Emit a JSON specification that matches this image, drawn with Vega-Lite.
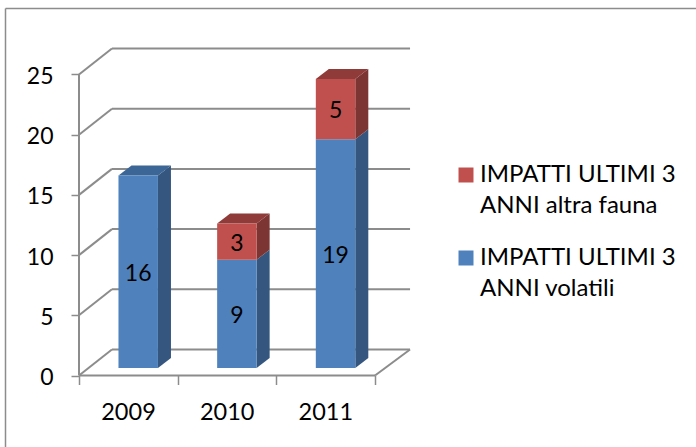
{
"$schema":"https://vega.github.io/schema/vega-lite/v6.json",
"width":691,"height":439,"autosize":"none","padding":{"left":5,"top":8,"right":0,"bottom":0},
"background":"white",
"view":{"stroke":null},
"config":{"font":"Lato"},
"datasets":{
"grid":[{"v":0},{"v":5},{"v":10},{"v":15},{"v":20},{"v":25}],
"bars":[
{"year":2009,"i":0,"series":"IMPATTI ULTIMI 3|ANNI volatili","start":0,"end":16,"value":16,"top":true},
{"year":2010,"i":1,"series":"IMPATTI ULTIMI 3|ANNI volatili","start":0,"end":9,"value":9,"top":false},
{"year":2010,"i":1,"series":"IMPATTI ULTIMI 3|ANNI altra fauna","start":9,"end":12,"value":3,"top":true},
{"year":2011,"i":2,"series":"IMPATTI ULTIMI 3|ANNI volatili","start":0,"end":19,"value":19,"top":false},
{"year":2011,"i":2,"series":"IMPATTI ULTIMI 3|ANNI altra fauna","start":19,"end":24,"value":5,"top":true}
]},
"resolve":{"axis":{"x":"independent","y":"independent"},"scale":{"color":"independent"}},
"layer":[
{"data":{"name":"grid"},"transform":[{"calculate":"datum.v+2.16","as":"b"}],
"mark":{"type":"rule","stroke":"#8C8C8C","strokeWidth":2},
"encoding":{
"x":{"datum":0,"type":"quantitative","scale":{"domain":[-0.75,6.253],"nice":false,"zero":false},
"axis":{"orient":"top","offset":0,"domain":true,"domainColor":"#8C8C8C","domainWidth":1.5,"ticks":false,"labels":false,"grid":false,"title":null}},
"x2":{"datum":0.334},
"y":{"field":"v","type":"quantitative","scale":{"domain":[-5.938,30.523],"nice":false,"zero":false},
"axis":{"orient":"left","offset":0,"domain":true,"domainColor":"#8C8C8C","domainWidth":1.5,"ticks":false,"labels":false,"grid":false,"title":null}},
"y2":{"field":"b"}}},
{"data":{"name":"grid"},"transform":[{"calculate":"datum.v+2.16","as":"b"}],
"mark":{"type":"rule","stroke":"#8C8C8C","strokeWidth":2},
"encoding":{
"x":{"datum":0.334,"type":"quantitative",
"axis":{"orient":"bottom","offset":-71.5,"domain":false,"values":[0,1,2,3],"tickSize":9,"tickColor":"#8C8C8C","tickWidth":1.5,"grid":false,"title":null,"labelExpr":"datum.value<3?''+(2009+datum.value):''","labelOffset":49,"labelFontSize":23.5,"labelColor":"#000","labelPadding":16,"labelFont":"Lato","labelFlush":false,"labelOverlap":false}},
"x2":{"datum":3.355},
"y":{"field":"b","type":"quantitative",
"axis":{"orient":"left","offset":-74,"domain":false,"values":[0,5,10,15,20,25],"tickSize":8,"tickColor":"#8C8C8C","tickWidth":1.5,"grid":false,"title":null,"labelFontSize":23,"labelColor":"#000","labelPadding":18,"labelFont":"Lato","labelOffset":2,"format":"d"}}}},
{"data":{"values":[{"a":0,"b":0,"c":3,"d":0},{"a":0,"b":0,"c":0,"d":25},{"a":3,"b":0,"c":3.355,"d":2.16}]},
"mark":{"type":"rule","stroke":"#8C8C8C","strokeWidth":2},
"encoding":{"x":{"field":"a","type":"quantitative","axis":null},"x2":{"field":"c"},"y":{"field":"b","type":"quantitative","axis":null},"y2":{"field":"d"}}},
{"data":{"name":"bars"},
"transform":[{"calculate":"0","as":"near"},{"calculate":"1","as":"far"},{"fold":["near","far"],"as":["side","t"]},{"calculate":"datum.i+0.8+datum.t*0.132","as":"sx"},{"calculate":"datum.start+0.62+datum.t*0.83","as":"sy2"},{"calculate":"datum.end+0.62+datum.t*0.83","as":"sy"}],
"mark":{"type":"area","orient":"vertical","interpolate":"linear"},
"encoding":{"x":{"field":"sx","type":"quantitative","axis":null},"y":{"field":"sy","type":"quantitative","axis":null},"y2":{"field":"sy2"},"detail":{"field":"end","type":"nominal"},
"color":{"field":"series","type":"nominal","legend":null,"scale":{"domain":["IMPATTI ULTIMI 3|ANNI altra fauna","IMPATTI ULTIMI 3|ANNI volatili"],"range":["#7D3533","#35577F"]}}}},
{"data":{"name":"bars"},
"transform":[{"filter":"datum.top"},{"calculate":"0","as":"near"},{"calculate":"1","as":"far"},{"fold":["near","far"],"as":["side","t"]},{"calculate":"datum.i+0.4+datum.t*0.132","as":"tl"},{"calculate":"datum.i+0.8+datum.t*0.132","as":"tr"},{"calculate":"datum.end+0.62+datum.t*0.83","as":"ty"}],
"mark":{"type":"area","orient":"horizontal","interpolate":"linear"},
"encoding":{"y":{"field":"ty","type":"quantitative","axis":null},"x":{"field":"tl","type":"quantitative","axis":null},"x2":{"field":"tr"},"detail":{"field":"end","type":"nominal"},
"color":{"field":"series","type":"nominal","legend":null,"scale":{"domain":["IMPATTI ULTIMI 3|ANNI altra fauna","IMPATTI ULTIMI 3|ANNI volatili"],"range":["#8E3B39","#3B6695"]}}}},
{"data":{"name":"bars"},
"transform":[{"calculate":"datum.i+0.4","as":"l"},{"calculate":"datum.i+0.8","as":"r"},{"calculate":"datum.start+0.62","as":"lo"},{"calculate":"datum.end+0.62","as":"hi"}],
"mark":{"type":"rect"},
"encoding":{"x":{"field":"l","type":"quantitative","axis":null},"x2":{"field":"r"},"y":{"field":"lo","type":"quantitative","axis":null},"y2":{"field":"hi"},
"color":{"field":"series","type":"nominal","scale":{"domain":["IMPATTI ULTIMI 3|ANNI altra fauna","IMPATTI ULTIMI 3|ANNI volatili"],"range":["#C0504D","#4F81BD"]},
"legend":{"orient":"none","legendX":449,"legendY":155,"title":null,"symbolType":"square","symbolSize":225,"symbolStrokeWidth":0,"labelFontSize":24,"labelFont":"Lato","labelColor":"#000","labelLimit":300,"labelOffset":2,"labelExpr":"split(datum.label,'|')","rowPadding":28,"encode":{"labels":{"update":{"lineHeight":{"value":31}}}}}}}},
{"data":{"name":"bars"},
"transform":[{"calculate":"datum.i+0.6","as":"c"},{"calculate":"(datum.start+datum.end)/2+0.62","as":"m"}],
"mark":{"type":"text","fontSize":23,"font":"Lato","color":"#000","baseline":"middle","dy":2},
"encoding":{"x":{"field":"c","type":"quantitative","axis":null},"y":{"field":"m","type":"quantitative","axis":null},"text":{"field":"value","type":"quantitative"}}}
]
}
